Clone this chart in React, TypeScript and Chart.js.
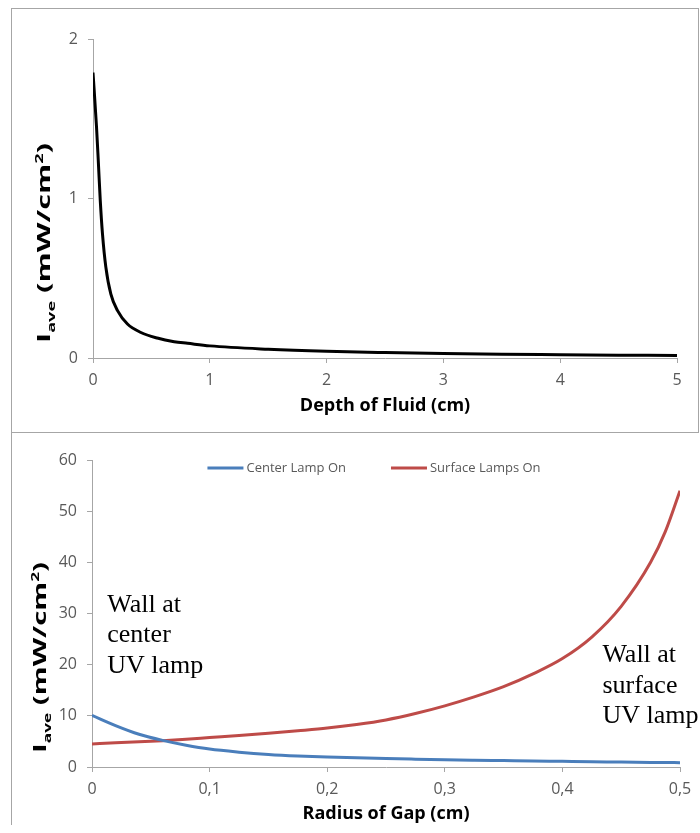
import React, { useEffect, useRef } from "react";
import { Chart, registerables } from "chart.js";

Chart.register(...registerables);

// ---------- Top chart data ----------
const depthOfFluid = [0, 0.03, 0.045, 0.062, 0.081, 0.11, 0.153, 0.21, 0.295, 0.41, 0.55, 0.695, 0.81, 1, 1.5, 2, 2.5, 3, 3.5, 4, 4.5, 5];
const iaveByDepth = [1.79, 1.45, 1.24, 0.99, 0.78, 0.57, 0.4, 0.297, 0.213, 0.16, 0.125, 0.102, 0.092, 0.076, 0.055, 0.042, 0.034, 0.028, 0.024, 0.021, 0.018, 0.015];
const depthTickValues = [0, 1, 2, 3, 4, 5];
const depthTickLabels = ["0", "1", "2", "3", "4", "5"];
const iaveTopTickValues = [0, 1, 2];
const iaveTopTickLabels = ["0", "1", "2"];

// ---------- Bottom chart data ----------
const radiusOfGap = [0, 0.02, 0.04, 0.06, 0.08, 0.1, 0.125, 0.15, 0.175, 0.2, 0.225, 0.25, 0.275, 0.3, 0.325, 0.35, 0.375, 0.4, 0.425, 0.45, 0.475, 0.4875, 0.5];
const centerLampOn = [10.1, 8.1, 6.4, 5.2, 4.25, 3.5, 2.9, 2.45, 2.15, 1.95, 1.8, 1.65, 1.53, 1.42, 1.33, 1.25, 1.17, 1.1, 1.03, 0.97, 0.9, 0.87, 0.85];
const surfaceLampsOn = [4.5, 4.72, 4.93, 5.15, 5.42, 5.75, 6.15, 6.6, 7.08, 7.6, 8.3, 9.2, 10.45, 11.95, 13.7, 15.7, 18.2, 21.2, 25.4, 31.4, 40, 46, 54];
const seriesNames = ["Center Lamp On", "Surface Lamps On"];
const gapTickValues = [0, 0.1, 0.2, 0.3, 0.4, 0.5];
const gapTickLabels = ["0", "0,1", "0,2", "0,3", "0,4", "0,5"];
const iaveBottomTickValues = [0, 10, 20, 30, 40, 50, 60];
const iaveBottomTickLabels = ["0", "10", "20", "30", "40", "50", "60"];

const noteCenter = ["Wall at", "center", "UV lamp"];
const noteSurface = ["Wall at", "surface", "UV lamp"];

// ---------- Styling ----------
const FONT = '"Open Sans", sans-serif';
const AXIS_GRAY = "#a6a6a6";
const TEXT_GRAY = "#595959";
const BLUE = "#4a7ebb";
const RED = "#be4b48";

// y-axis title "I_ave (mW/cm²)" with sub/superscript (stretched along its length like the original)
const yTitlePlugin = {
  id: "yTitleRich",
  afterDraw(chart: any, _args: any, opts: any) {
    const { ctx, chartArea } = chart;
    const parts = [
      { t: "I", size: 17, dy: 0 },
      { t: "ave", size: 10, dy: 5 },
      { t: " (mW/cm", size: 17, dy: 0 },
      { t: "2", size: 10, dy: -7 },
      { t: ")", size: 17, dy: 0 },
    ];
    ctx.save();
    let total = 0;
    for (const p of parts) {
      ctx.font = `bold ${p.size}px ${FONT}`;
      total += ctx.measureText(p.t).width;
    }
    const stretch = opts.length / total;
    ctx.translate(opts.x, chartArea.bottom - opts.gap);
    ctx.rotate(-Math.PI / 2);
    ctx.scale(stretch, 1);
    ctx.fillStyle = "#000";
    ctx.textAlign = "left";
    ctx.textBaseline = "alphabetic";
    let cx = 0;
    for (const p of parts) {
      ctx.font = `bold ${p.size}px ${FONT}`;
      ctx.fillText(p.t, cx, p.dy);
      cx += ctx.measureText(p.t).width;
    }
    ctx.restore();
  },
};

// Text notes placed in data coordinates
const notesPlugin = {
  id: "notes",
  afterDatasetsDraw(chart: any, _args: any, opts: any) {
    if (!opts || !opts.items) return;
    const { ctx, scales } = chart;
    ctx.save();
    ctx.fillStyle = "#000";
    ctx.font = `26px "Liberation Serif", "Times New Roman", serif`;
    ctx.textAlign = "left";
    ctx.textBaseline = "alphabetic";
    for (const item of opts.items) {
      const px = scales.x.getPixelForValue(item.x);
      const py = scales.y.getPixelForValue(item.y);
      item.lines.forEach((line: string, i: number) => {
        ctx.fillText(line, px, py + i * opts.lineGap);
      });
    }
    ctx.restore();
  },
};

// Legend drawn inside the plot area (Excel style)
const innerLegendPlugin = {
  id: "innerLegend",
  afterDraw(chart: any, _args: any, opts: any) {
    if (!opts || !opts.enabled) return;
    const { ctx, chartArea } = chart;
    const ds = chart.data.datasets;
    ctx.save();
    ctx.font = `13px ${FONT}`;
    const lineLen = 36;
    const gapText = 3;
    const gapItem = 45;
    const widths = ds.map((d: any) => ctx.measureText(d.label).width);
    let total = 0;
    widths.forEach((w: number, i: number) => {
      total += lineLen + gapText + w + (i < widths.length - 1 ? gapItem : 0);
    });
    let x = (chartArea.left + chartArea.right) / 2 - total / 2 + opts.shiftX;
    const y = chartArea.top + opts.offsetY;
    ds.forEach((d: any, i: number) => {
      ctx.strokeStyle = d.borderColor;
      ctx.lineWidth = 3;
      ctx.beginPath();
      ctx.moveTo(x, y);
      ctx.lineTo(x + lineLen, y);
      ctx.stroke();
      x += lineLen + gapText;
      ctx.fillStyle = TEXT_GRAY;
      ctx.textBaseline = "middle";
      ctx.textAlign = "left";
      ctx.fillText(d.label, x, y);
      x += widths[i] + gapItem;
    });
    ctx.restore();
  },
};

function axisCommon() {
  return {
    type: "linear" as const,
    grid: {
      display: true,
      drawOnChartArea: false,
      drawTicks: true,
      tickLength: 5,
      color: AXIS_GRAY,
    },
    border: { display: true, color: AXIS_GRAY, width: 1 },
  };
}

function DepthChart() {
  const ref = useRef<HTMLCanvasElement | null>(null);
  useEffect(() => {
    if (!ref.current) return;
    const chart = new Chart(ref.current, {
      type: "line",
      data: {
        datasets: [
          {
            label: "Iave",
            data: depthOfFluid.map((x, i) => ({ x, y: iaveByDepth[i] })),
            borderColor: "#000000",
            backgroundColor: "#000000",
            borderWidth: 3,
            pointRadius: 0,
            cubicInterpolationMode: "monotone",
            fill: false,
          },
        ],
      },
      options: {
        animation: false,
        responsive: true,
        maintainAspectRatio: false,
        layout: { padding: { top: 30, right: 21, bottom: 0, left: 0 } },
        plugins: {
          legend: { display: false },
          tooltip: { enabled: false },
          yTitleRich: { x: 38, gap: 15, length: 200 },
        } as any,
        scales: {
          x: {
            ...axisCommon(),
            min: 0,
            max: 5,
            afterBuildTicks: (s: any) => {
              s.ticks = depthTickValues.map((v) => ({ value: v }));
            },
            afterFit: (s: any) => {
              s.height = 74;
            },
            ticks: {
              color: TEXT_GRAY,
              font: { family: FONT, size: 16 },
              padding: 8,
              maxRotation: 0,
              callback: (_v: any, i: number) => depthTickLabels[i],
            },
            title: {
              display: true,
              text: "Depth of Fluid (cm)",
              color: "#000",
              font: { family: FONT, size: 18, weight: "bold" },
              padding: { top: 0, bottom: 15 },
            },
          },
          y: {
            ...axisCommon(),
            min: 0,
            max: 2,
            afterBuildTicks: (s: any) => {
              s.ticks = iaveTopTickValues.map((v) => ({ value: v }));
            },
            afterFit: (s: any) => {
              s.width = 81;
            },
            ticks: {
              color: TEXT_GRAY,
              font: { family: FONT, size: 16 },
              padding: 10,
              callback: (_v: any, i: number) => iaveTopTickLabels[i],
            },
          },
        },
      },
      plugins: [yTitlePlugin],
    } as any);
    return () => chart.destroy();
  }, []);
  return (
    <div style={{ position: "relative", width: "100%", height: "100%" }}>
      <canvas ref={ref} />
    </div>
  );
}

function GapChart() {
  const ref = useRef<HTMLCanvasElement | null>(null);
  useEffect(() => {
    if (!ref.current) return;
    const chart = new Chart(ref.current, {
      type: "line",
      data: {
        datasets: [
          {
            label: seriesNames[0],
            data: radiusOfGap.map((x, i) => ({ x, y: centerLampOn[i] })),
            borderColor: BLUE,
            backgroundColor: BLUE,
            borderWidth: 3,
            pointRadius: 0,
            cubicInterpolationMode: "monotone",
            fill: false,
          },
          {
            label: seriesNames[1],
            data: radiusOfGap.map((x, i) => ({ x, y: surfaceLampsOn[i] })),
            borderColor: RED,
            backgroundColor: RED,
            borderWidth: 3,
            pointRadius: 0,
            cubicInterpolationMode: "monotone",
            fill: false,
          },
        ],
      },
      options: {
        animation: false,
        responsive: true,
        maintainAspectRatio: false,
        layout: { padding: { top: 27, right: 20, bottom: 0, left: 0 } },
        plugins: {
          legend: { display: false },
          tooltip: { enabled: false },
          yTitleRich: { x: 34, gap: 14, length: 191 },
          innerLegend: { enabled: true, offsetY: 8, shiftX: -12 },
          notes: {
            lineGap: 30.5,
            items: [
              { x: 0.013, y: 30.3, lines: noteCenter },
              { x: 0.434, y: 20.5, lines: noteSurface },
            ],
          },
        } as any,
        scales: {
          x: {
            ...axisCommon(),
            min: 0,
            max: 0.5,
            afterBuildTicks: (s: any) => {
              s.ticks = gapTickValues.map((v) => ({ value: v }));
            },
            afterFit: (s: any) => {
              s.height = 58;
            },
            ticks: {
              color: TEXT_GRAY,
              font: { family: FONT, size: 16 },
              padding: 8,
              maxRotation: 0,
              callback: (_v: any, i: number) => gapTickLabels[i],
            },
            title: {
              display: true,
              text: "Radius of Gap (cm)",
              color: "#000",
              font: { family: FONT, size: 18, weight: "bold" },
              padding: { top: 0, bottom: 0 },
            },
          },
          y: {
            ...axisCommon(),
            min: 0,
            max: 60,
            afterBuildTicks: (s: any) => {
              s.ticks = iaveBottomTickValues.map((v) => ({ value: v }));
            },
            afterFit: (s: any) => {
              s.width = 80;
            },
            ticks: {
              color: TEXT_GRAY,
              font: { family: FONT, size: 16 },
              padding: 10,
              callback: (_v: any, i: number) => iaveBottomTickLabels[i],
            },
          },
        },
      },
      plugins: [yTitlePlugin, innerLegendPlugin, notesPlugin],
    } as any);
    return () => chart.destroy();
  }, []);
  return (
    <div style={{ position: "relative", width: "100%", height: "100%" }}>
      <canvas ref={ref} />
    </div>
  );
}

export default function App() {
  return (
    <div style={{ position: "fixed", left: 11, top: 8, width: 689 }}>
      <div
        style={{
          height: 425,
          width: 688,
          border: `1px solid ${AXIS_GRAY}`,
          boxSizing: "border-box",
          position: "relative",
        }}
      >
        <DepthChart />
      </div>
      <div
        style={{
          height: 392,
          width: 689,
          borderLeft: `1px solid ${AXIS_GRAY}`,
          boxSizing: "border-box",
          position: "relative",
        }}
      >
        <GapChart />
      </div>
    </div>
  );
}
